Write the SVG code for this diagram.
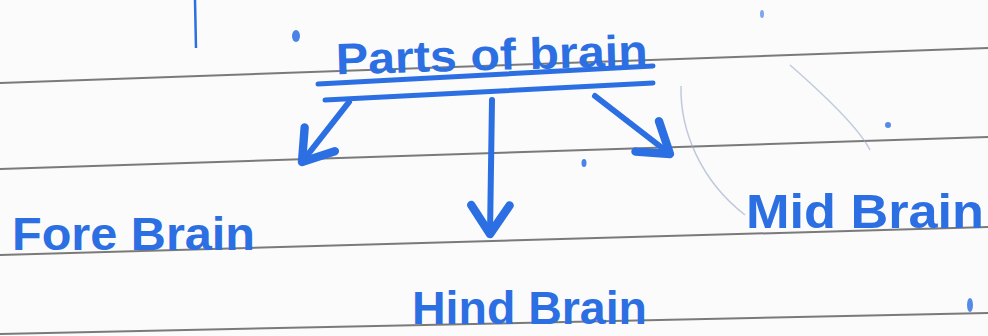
<svg xmlns="http://www.w3.org/2000/svg" width="988" height="336" viewBox="0 0 988 336">
  <defs>
    <style>
      .rule { stroke: #5a5a5a; stroke-width: 2; fill: none; opacity: 0.8; }
      .ink { fill: #2c6fe2; font-family: "Liberation Sans", "DejaVu Sans", sans-serif; font-weight: bold; }
      .stroke { stroke: #2c6fe2; fill: none; stroke-linecap: round; stroke-linejoin: round; }
      .faint { stroke: #9aa8c8; fill: none; stroke-width: 1.5; opacity: 0.6; }
    </style>
    <marker id="head" viewBox="0 0 20 20" refX="16" refY="10" markerWidth="8" markerHeight="8" orient="auto" markerUnits="strokeWidth">
      <path d="M4,2 L16,10 L4,18" fill="none" stroke="#2c6fe2" stroke-width="3.5" stroke-linecap="round" stroke-linejoin="round"/>
    </marker>
  </defs>

  <rect width="988" height="336" fill="#fbfbfb"/>

  <g id="paper">
    <line class="rule" x1="0" y1="83" x2="988" y2="48"/>
    <line class="rule" x1="0" y1="169" x2="988" y2="137"/>
    <line class="rule" x1="0" y1="255" x2="988" y2="227"/>
    <line class="rule" x1="0" y1="334" x2="988" y2="313"/>
    <path class="faint" d="M681,86 C680,130 700,180 745,215"/>
    <path class="faint" d="M790,65 C830,100 860,130 870,150"/>
    <line x1="195" y1="0" x2="196" y2="48" stroke="#2c6fe2" stroke-width="2.5"/>
    <ellipse cx="296" cy="36" rx="4" ry="6" fill="#2c6fe2" opacity="0.85"/>
    <ellipse cx="762" cy="14" rx="2" ry="4" fill="#2c6fe2" opacity="0.6"/>
    <circle cx="888" cy="125" r="3" fill="#2c6fe2" opacity="0.8"/>
    <ellipse cx="584" cy="163" rx="2.5" ry="4" fill="#2c6fe2" opacity="0.85"/>
    <ellipse cx="970" cy="305" rx="3" ry="7" fill="#2c6fe2" opacity="0.8"/>
  </g>

  <g id="title">
    <text class="ink" x="336" y="70" font-size="44" textLength="312" lengthAdjust="spacingAndGlyphs" transform="rotate(-1.6 490 66)">Parts of brain</text>
    <path class="stroke" stroke-width="5" d="M318,84 L653,66"/>
    <path class="stroke" stroke-width="5" d="M325,100 L653,83"/>
  </g>

  <g id="connectors">
    <path class="stroke" stroke-width="6" d="M349,102 L302,162" marker-end="url(#head)"/>
    <path class="stroke" stroke-width="6" d="M492,100 L490,234" marker-end="url(#head)"/>
    <path class="stroke" stroke-width="6" d="M595,96 L670,154" marker-end="url(#head)"/>
  </g>

  <g id="fore-brain">
    <text class="ink" x="12" y="250" font-size="46" textLength="243" lengthAdjust="spacingAndGlyphs">Fore Brain</text>
  </g>

  <g id="hind-brain">
    <text class="ink" x="412" y="324" font-size="46" textLength="235" lengthAdjust="spacingAndGlyphs">Hind Brain</text>
  </g>

  <g id="mid-brain">
    <text class="ink" x="746" y="228" font-size="48" textLength="238" lengthAdjust="spacingAndGlyphs">Mid Brain</text>
  </g>
</svg>
